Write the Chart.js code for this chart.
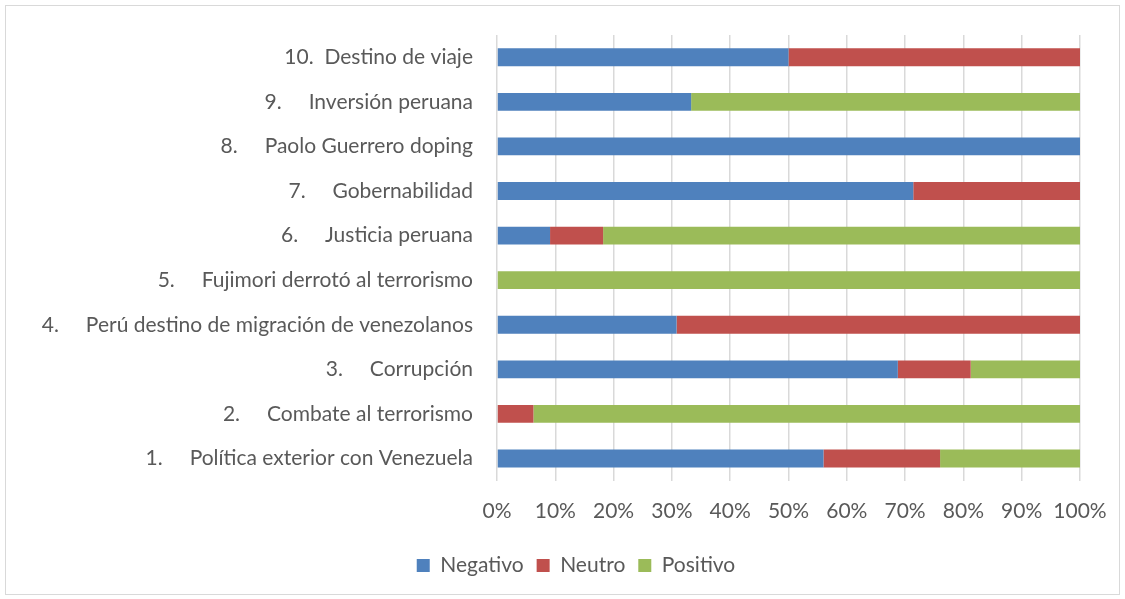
<!DOCTYPE html>
<html>
<head>
<meta charset="utf-8">
<script src="https://cdn.jsdelivr.net/npm/chart.js@4.4.0/dist/chart.umd.min.js"></script>
<style>
  html, body { margin: 0; padding: 0; background: #fff; }
  #frame { position: absolute; left: 5px; top: 5px; width: 1113px; height: 588px; border: 1px solid #d9d9d9; }
  #wrap { position: absolute; left: 0; top: 0; width: 1125px; height: 599px; }
</style>
</head>
<body>
<div id="frame"></div>
<div id="wrap"><canvas id="barChart" width="1125" height="599"></canvas></div>
<script>
// categories, top to bottom as shown
const categories = [
  "10.  Destino de viaje",
  "9.     Inversión peruana",
  "8.     Paolo Guerrero doping",
  "7.     Gobernabilidad",
  "6.     Justicia peruana",
  "5.     Fujimori derrotó al terrorismo",
  "4.     Perú destino de migración de venezolanos",
  "3.     Corrupción",
  "2.     Combate al terrorismo",
  "1.     Política exterior con Venezuela",
];

// shares in percent
const negativo = [50, 33.3, 100, 71.4, 9.1, 0, 30.8, 68.75, 0, 56];
const neutro = [50, 0, 0, 28.6, 9.1, 0, 69.2, 12.5, 6.25, 20];
const positivo = [0, 66.7, 0, 0, 81.8, 100, 0, 18.75, 93.75, 24];

const xTicks = [0, 10, 20, 30, 40, 50, 60, 70, 80, 90, 100];

const textColor = "#595959";
const fontFamily = "Lato, 'Open Sans', sans-serif";
const fontSize = 21;

// legend in the original sits a bit right of the canvas centre
const legendShift = {
  id: "legendShift",
  afterLayout(chart) {
    chart.legend.left += 72;
  },
};

const ctx = document.getElementById("barChart").getContext("2d");

window.chartBar = new Chart(ctx, {
  type: "bar",
  data: {
    labels: categories,
    datasets: [
      { label: "Negativo", data: negativo, backgroundColor: "#4f81bd" },
      { label: "Neutro", data: neutro, backgroundColor: "#c0504d" },
      { label: "Positivo", data: positivo, backgroundColor: "#9bbb59" },
    ],
  },
  options: {
    indexAxis: "y",
    responsive: false,
    animation: false,
    barPercentage: 0.8,
    categoryPercentage: 0.5,
    layout: { padding: { top: 35, right: 45, bottom: 13, left: 0 } },
    scales: {
      x: {
        stacked: true,
        min: 0,
        max: 100,
        afterBuildTicks: (scale) => {
          scale.ticks = xTicks.map((v) => ({ value: v }));
        },
        grid: { color: "#d9d9d9", lineWidth: 1.5, drawTicks: false },
        border: { display: false },
        ticks: {
          color: textColor,
          font: { family: fontFamily, size: fontSize },
          padding: 18,
          maxRotation: 0,
          minRotation: 0,
          autoSkip: false,
          callback: (v) => v + "%",
        },
      },
      y: {
        stacked: true,
        grid: { display: false },
        border: { display: false },
        afterFit: (scale) => {
          scale.width = 497;
        },
        ticks: {
          color: textColor,
          font: { family: fontFamily, size: fontSize },
          padding: 16,
        },
      },
    },
    plugins: {
      legend: {
        position: "bottom",
        labels: {
          color: textColor,
          font: { family: fontFamily, size: fontSize },
          boxWidth: 13,
          boxHeight: 13,
          padding: 13,
        },
      },
      tooltip: { enabled: false },
    },
  },
  plugins: [legendShift],
});
</script>
</body>
</html>
